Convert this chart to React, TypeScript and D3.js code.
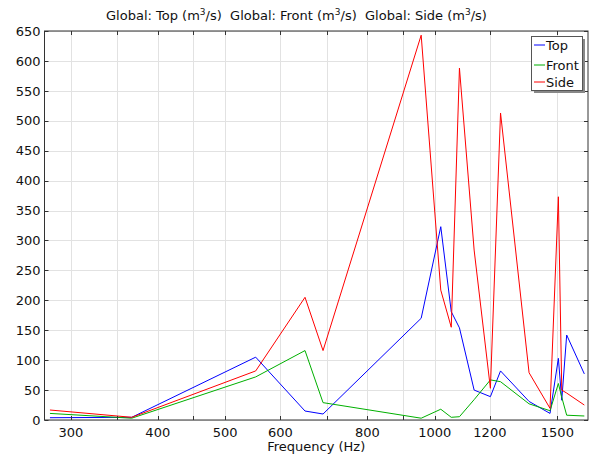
import React from "react";
import * as d3 from "d3";

// frequency samples (Hz)
const FREQ = [280, 367, 553, 651, 691, 956, 1020, 1056, 1085, 1139, 1202, 1243, 1366, 1464, 1505, 1522, 1547, 1640];
const TOP = [3.8, 4.5, 105, 15, 10, 170, 323, 181, 154, 50, 39, 82, 31, 11, 103, 33, 142, 77];
const FRONT = [11, 3, 72, 116, 29, 3, 18, 4.5, 5.5, 34, 67, 64, 27, 15.5, 61, 38, 8, 6.7];
const SIDE = [16.7, 4.5, 82, 205, 116, 643, 217, 155, 588, 284, 53, 513, 79, 19.5, 373, 50, 45, 25];

const X_TICKS = [300, 400, 500, 600, 800, 1000, 1200, 1500];
const X_MINOR = [350, 450, 700, 900];
const Y_TICKS = d3.range(0, 651, 50);

const SERIES = [
	{ name: "Top", values: TOP, color: "#0000ff" },
	{ name: "Front", values: FRONT, color: "#00b000" },
	{ name: "Side", values: SIDE, color: "#ff0000" }
];

const W = 593;
const H = 455;
const M = { left: 44.5, right: 588, top: 31, bottom: 420 };
const FONT = "DejaVu Sans, sans-serif";

export default function App() {
	const x = d3.scaleLog().domain([275, 1660]).range([M.left, M.right]);
	const y = d3.scaleLinear().domain([0, 650]).range([M.bottom, M.top]);

	const line = d3
		.line<number>()
		.x((d, i) => x(FREQ[i]))
		.y((d) => y(d));

	const sup = (
		<tspan baselineShift="super" fontSize="9">
			3
		</tspan>
	);

	return (
		<svg
			width={W}
			height={H}
			style={{ position: "absolute", left: 0, top: 0, background: "#fff" }}
			fontFamily={FONT}>
			<rect x={0} y={0} width={W} height={H} fill="#fff" />

			{/* grid */}
			<g stroke="#e2e2e2" strokeWidth={1}>
				{Y_TICKS.map((t) => (
					<line key={"gy" + t} x1={M.left} x2={M.right} y1={Math.round(y(t)) + 0.5} y2={Math.round(y(t)) + 0.5} />
				))}
				{X_TICKS.concat(X_MINOR).map((t) => (
					<line key={"gx" + t} y1={M.top} y2={M.bottom} x1={Math.round(x(t)) + 0.5} x2={Math.round(x(t)) + 0.5} />
				))}
			</g>

			{/* data */}
			<g fill="none" strokeWidth={1}>
				{SERIES.map((s) => (
					<path key={s.name} d={line(s.values) || ""} stroke={s.color} />
				))}
			</g>

			{/* frame and inward ticks */}
			<rect x={M.left} y={M.top} width={M.right - M.left} height={M.bottom - M.top} fill="none" stroke="#333" strokeWidth={1} />
			<g stroke="#333" strokeWidth={1}>
				{Y_TICKS.map((t) => (
					<g key={"ty" + t}>
						<line x1={M.left} x2={M.left + 4} y1={Math.round(y(t)) + 0.5} y2={Math.round(y(t)) + 0.5} />
						<line x1={M.right - 4} x2={M.right} y1={Math.round(y(t)) + 0.5} y2={Math.round(y(t)) + 0.5} />
					</g>
				))}
				{X_TICKS.concat(X_MINOR).map((t) => (
					<g key={"tx" + t}>
						<line y1={M.bottom} y2={M.bottom - 4} x1={Math.round(x(t)) + 0.5} x2={Math.round(x(t)) + 0.5} />
						<line y1={M.top} y2={M.top + 4} x1={Math.round(x(t)) + 0.5} x2={Math.round(x(t)) + 0.5} />
					</g>
				))}
			</g>

			{/* tick labels */}
			<g fontSize="13" fill="#111">
				{Y_TICKS.map((t) => (
					<text key={"ly" + t} x={M.left - 4} y={y(t)} dy="0.36em" textAnchor="end">
						{t}
					</text>
				))}
				{X_TICKS.map((t) => (
					<text key={"lx" + t} x={x(t)} y={M.bottom + 17} textAnchor="middle">
						{t}
					</text>
				))}
			</g>

			<text x={(M.left + M.right) / 2} y={451} textAnchor="middle" fontSize="13" fill="#111">
				Frequency (Hz)
			</text>

			<text x={W / 2} y={20} textAnchor="middle" fontSize="13" fill="#111" style={{ whiteSpace: "pre" }}>
				Global: Top (m{sup}/s)  Global: Front (m{sup}/s)  Global: Side (m{sup}/s)
			</text>

			{/* legend */}
			<g>
				<rect x={534} y={39} width={51} height={54} fill="#888" />
				<rect x={531.5} y={36.5} width={51} height={54} fill="#fff" stroke="#555" />
				{SERIES.map((s, i) => {
					const ly = [45, 65, 82][i];
					return (
						<g key={"lg" + s.name}>
							<line x1={534} x2={545} y1={ly} y2={ly} stroke={s.color} strokeWidth={i === 1 ? 2 : 1} strokeOpacity={i === 1 ? 0.5 : 1} />
							<text x={546} y={ly} dy="0.36em" fontSize="13" fill="#111">
								{s.name}
							</text>
						</g>
					);
				})}
			</g>
		</svg>
	);
}
